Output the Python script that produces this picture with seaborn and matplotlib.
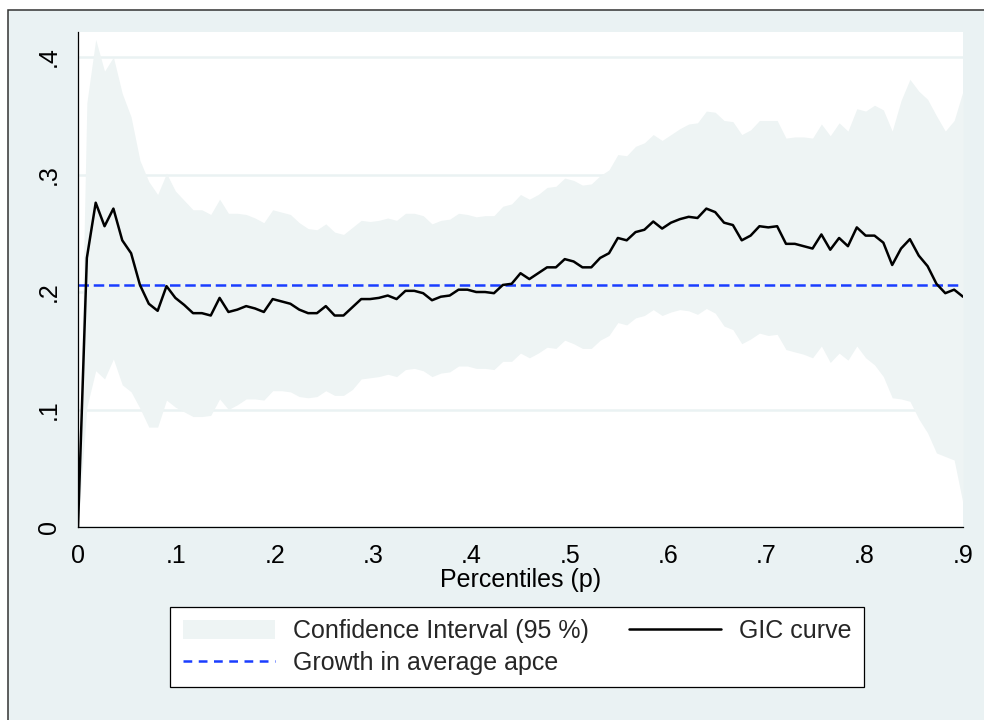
import matplotlib
matplotlib.use("Agg")
import matplotlib.pyplot as plt
from matplotlib.patches import Patch, Rectangle
from matplotlib.lines import Line2D
import pandas as pd
import seaborn as sns

# ---------------- data ----------------
percentiles = [0.000, 0.009, 0.018, 0.027, 0.036, 0.045, 0.054, 0.063, 0.072, 0.081,
               0.090, 0.099, 0.108, 0.117, 0.126, 0.135, 0.144, 0.153, 0.162, 0.171,
               0.180, 0.189, 0.198, 0.207, 0.216, 0.225, 0.234, 0.243, 0.252, 0.261,
               0.270, 0.279, 0.288, 0.297, 0.306, 0.315, 0.324, 0.333, 0.342, 0.351,
               0.360, 0.369, 0.378, 0.387, 0.396, 0.405, 0.414, 0.423, 0.432, 0.441,
               0.450, 0.459, 0.468, 0.477, 0.486, 0.495, 0.504, 0.513, 0.522, 0.531,
               0.540, 0.549, 0.558, 0.567, 0.576, 0.585, 0.594, 0.603, 0.612, 0.621,
               0.630, 0.639, 0.648, 0.657, 0.666, 0.675, 0.684, 0.693, 0.702, 0.711,
               0.720, 0.729, 0.738, 0.747, 0.756, 0.765, 0.774, 0.783, 0.792, 0.801,
               0.810, 0.819, 0.828, 0.837, 0.846, 0.855, 0.864, 0.873, 0.882, 0.891,
               0.900]

gic_curve = [0.000, 0.229, 0.276, 0.256, 0.271, 0.244, 0.233, 0.206, 0.190, 0.184,
             0.205, 0.195, 0.189, 0.182, 0.182, 0.180, 0.195, 0.183, 0.185, 0.188,
             0.186, 0.183, 0.194, 0.192, 0.190, 0.185, 0.182, 0.182, 0.188, 0.180,
             0.180, 0.187, 0.194, 0.194, 0.195, 0.197, 0.194, 0.201, 0.201, 0.199,
             0.193, 0.196, 0.197, 0.202, 0.202, 0.200, 0.200, 0.199, 0.206, 0.207,
             0.216, 0.211, 0.216, 0.221, 0.221, 0.228, 0.226, 0.221, 0.221, 0.229,
             0.233, 0.246, 0.244, 0.251, 0.253, 0.260, 0.254, 0.259, 0.262, 0.264,
             0.263, 0.271, 0.268, 0.259, 0.257, 0.244, 0.248, 0.256, 0.255, 0.256,
             0.241, 0.241, 0.239, 0.237, 0.249, 0.236, 0.246, 0.239, 0.255, 0.248,
             0.248, 0.242, 0.223, 0.237, 0.245, 0.231, 0.222, 0.207, 0.199, 0.202,
             0.196]

ci_upper = [0.000, 0.361, 0.415, 0.388, 0.400, 0.369, 0.349, 0.312, 0.294, 0.283,
            0.301, 0.286, 0.278, 0.270, 0.270, 0.266, 0.279, 0.267, 0.267, 0.266,
            0.263, 0.259, 0.270, 0.268, 0.266, 0.259, 0.254, 0.253, 0.258, 0.251,
            0.249, 0.255, 0.261, 0.260, 0.261, 0.263, 0.261, 0.267, 0.267, 0.265,
            0.258, 0.261, 0.262, 0.267, 0.266, 0.264, 0.265, 0.265, 0.273, 0.275,
            0.283, 0.279, 0.283, 0.289, 0.290, 0.297, 0.295, 0.291, 0.292, 0.299,
            0.304, 0.317, 0.316, 0.324, 0.327, 0.334, 0.329, 0.334, 0.339, 0.343,
            0.344, 0.354, 0.353, 0.346, 0.345, 0.334, 0.338, 0.346, 0.346, 0.346,
            0.331, 0.332, 0.332, 0.331, 0.343, 0.333, 0.344, 0.337, 0.356, 0.354,
            0.359, 0.355, 0.337, 0.363, 0.381, 0.371, 0.364, 0.350, 0.337, 0.346,
            0.371]

ci_lower = [0.000, 0.102, 0.133, 0.126, 0.143, 0.121, 0.115, 0.101, 0.085, 0.085,
            0.108, 0.102, 0.098, 0.094, 0.094, 0.095, 0.109, 0.100, 0.104, 0.109,
            0.109, 0.108, 0.116, 0.116, 0.115, 0.111, 0.110, 0.111, 0.116, 0.112,
            0.112, 0.117, 0.126, 0.127, 0.128, 0.130, 0.128, 0.134, 0.135, 0.133,
            0.128, 0.131, 0.132, 0.137, 0.137, 0.135, 0.135, 0.134, 0.141, 0.141,
            0.148, 0.144, 0.148, 0.153, 0.152, 0.159, 0.156, 0.152, 0.152, 0.159,
            0.163, 0.174, 0.172, 0.178, 0.180, 0.185, 0.180, 0.183, 0.185, 0.184,
            0.181, 0.186, 0.182, 0.171, 0.168, 0.156, 0.160, 0.165, 0.163, 0.164,
            0.151, 0.149, 0.147, 0.144, 0.154, 0.140, 0.148, 0.142, 0.154, 0.144,
            0.138, 0.128, 0.110, 0.109, 0.107, 0.092, 0.080, 0.063, 0.060, 0.057,
            0.020]

growth_in_average = 0.206

x_ticks = [0, 0.1, 0.2, 0.3, 0.4, 0.5, 0.6, 0.7, 0.8, 0.9]
x_tick_labels = ["0", ".1", ".2", ".3", ".4", ".5", ".6", ".7", ".8", ".9"]
y_ticks = [0, 0.1, 0.2, 0.3, 0.4]
y_tick_labels = ["0", ".1", ".2", ".3", ".4"]

x_label = "Percentiles (p)"
legend_labels = ["Confidence Interval (95 %)", "Growth in average apce", "GIC curve"]

# ---------------- style ----------------
sns.set_theme(style="white")
plt.rcParams["font.family"] = ["Liberation Sans", "DejaVu Sans"]

BG = "#EAF2F3"
FILL = "#EEF4F4"
BLUE = "#1a3dff"
FS = 18
LW = 1.8
DASH = (4.2, 1.9)

df = pd.DataFrame({"p": percentiles, "gic": gic_curve,
                   "lo": ci_lower, "hi": ci_upper})

fig = plt.figure(figsize=(9.84, 7.2), dpi=100, facecolor="white")
# outer graph region (Stata-like), with border on left/top
fig.patches.append(Rectangle((8 / 984, -0.1), 1.2, (720 - 10) / 720 + 0.1,
                             transform=fig.transFigure, facecolor=BG,
                             edgecolor="#333333", lw=1.1, zorder=-10))

ax = fig.add_axes([78 / 984, (720 - 527) / 720, 885 / 984, 495 / 720])
ax.set_facecolor("white")
ax.set_axisbelow(True)
ax.yaxis.grid(True, color=BG, lw=1.8)
ax.xaxis.grid(False)

ax.fill_between(df["p"], df["lo"], df["hi"], color=FILL, lw=0, zorder=1)
ax.axhline(growth_in_average, color=BLUE, lw=LW, dashes=DASH, zorder=2)
sns.lineplot(data=df, x="p", y="gic", color="black", lw=LW, ax=ax, zorder=3)

ax.set_xlim(0, 0.9)
ax.set_ylim(0, 0.4213)
ax.set_xticks(x_ticks)
ax.set_xticklabels(x_tick_labels)
ax.set_yticks(y_ticks)
ax.set_yticklabels(y_tick_labels, rotation=90, va="center")
ax.tick_params(axis="both", direction="out", length=7.5, width=0.9,
               color="black", labelsize=FS, labelcolor="black", pad=5)
ax.set_xlabel(x_label, fontsize=FS, labelpad=0, color="black")
ax.set_ylabel("")

for s in ["top", "right"]:
    ax.spines[s].set_visible(False)
for s in ["left", "bottom"]:
    ax.spines[s].set_color("black")
    ax.spines[s].set_linewidth(0.9)

handles = [
    Patch(facecolor=FILL, edgecolor="none", label=legend_labels[0]),
    Line2D([], [], color=BLUE, lw=LW, dashes=(3.5, 2.6), label=legend_labels[1]),
    Line2D([], [], color="black", lw=LW, label=legend_labels[2]),
]
leg = fig.legend(handles=handles, ncol=2, loc="center",
                 bbox_to_anchor=(517 / 984, 1 - 647 / 720),
                 frameon=True, fancybox=False, edgecolor="black", facecolor="white",
                 framealpha=1, fontsize=FS, handlelength=3.7, handleheight=0.8,
                 handletextpad=0.7, columnspacing=1.6, labelspacing=0.3,
                 borderpad=0.5)
leg.get_frame().set_linewidth(0.9)

fig.savefig("out.png", dpi=100, facecolor="white")
